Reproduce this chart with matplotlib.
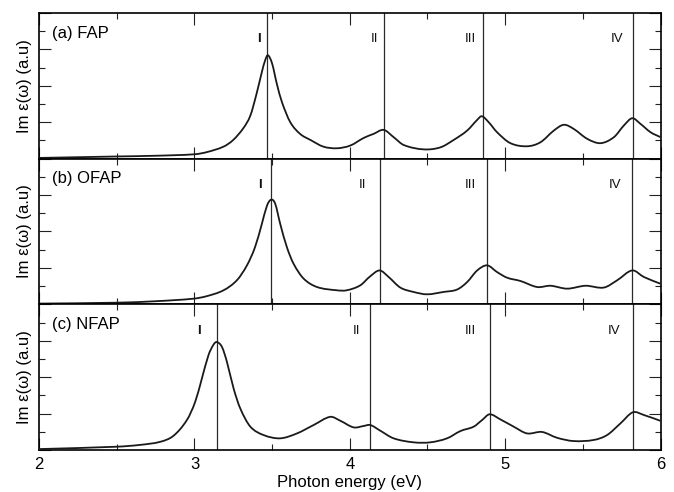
import matplotlib
matplotlib.use("Agg")
import matplotlib.pyplot as plt
from matplotlib.path import Path
from matplotlib.patches import PathPatch
from matplotlib.ticker import MultipleLocator

plt.rcParams["font.family"] = ["Liberation Sans", "DejaVu Sans"]

# Imaginary part of the dielectric function for the three compounds
fap_energy = [2.0, 2.5, 2.75, 3.0, 3.08, 3.187, 3.25, 3.316, 3.36, 3.40, 3.434, 3.455,
              3.473, 3.50, 3.53, 3.563, 3.617, 3.68, 3.746, 3.83, 3.917, 4.003, 4.09,
              4.153, 4.218, 4.282, 4.347, 4.475, 4.583, 4.669, 4.755, 4.82, 4.85, 4.894,
              4.948, 5.034, 5.141, 5.227, 5.313, 5.377, 5.44, 5.528, 5.614, 5.70, 5.764,
              5.818, 5.871, 5.936, 6.0]
fap_eps = [0.04, 0.12, 0.16, 0.24, 0.36, 0.66, 1.03, 1.69, 2.37, 3.57, 4.76, 5.4,
           5.68, 5.22, 4.12, 3.11, 2.0, 1.36, 1.03, 0.66, 0.57, 0.72, 1.14,
           1.36, 1.58, 1.18, 0.75, 0.51, 0.62, 1.03, 1.54, 2.13, 2.33, 2.0,
           1.45, 0.85, 0.68, 0.9, 1.54, 1.86, 1.64, 1.09, 0.85, 1.18, 1.82,
           2.22, 1.91, 1.45, 1.18]

ofap_energy = [2.0, 2.5, 2.75, 2.994, 3.08, 3.187, 3.273, 3.338, 3.39, 3.434, 3.467,
               3.494, 3.52, 3.552, 3.595, 3.638, 3.703, 3.789, 3.917, 3.98, 4.067,
               4.13, 4.192, 4.25, 4.325, 4.41, 4.497, 4.604, 4.69, 4.755, 4.82, 4.884,
               4.948, 5.013, 5.099, 5.206, 5.292, 5.399, 5.517, 5.635, 5.721, 5.818,
               5.893, 6.0]
ofap_eps = [0.04, 0.09, 0.17, 0.31, 0.45, 0.77, 1.32, 2.14, 3.14, 4.42, 5.42,
            5.75, 5.52, 4.42, 3.14, 2.23, 1.41, 0.95, 0.77, 0.77, 1.04,
            1.53, 1.86, 1.5, 0.92, 0.68, 0.55, 0.68, 0.81, 1.22, 1.86, 2.14,
            1.77, 1.46, 1.28, 0.95, 1.02, 0.86, 1.02, 0.92, 1.32, 1.86,
            1.5, 1.13]

nfap_energy = [2.0, 2.5, 2.65, 2.78, 2.865, 2.951, 3.005, 3.048, 3.09, 3.123, 3.144,
               3.177, 3.209, 3.252, 3.295, 3.36, 3.445, 3.552, 3.66, 3.767, 3.874,
               3.94, 4.025, 4.09, 4.132, 4.196, 4.282, 4.411, 4.518, 4.626, 4.712,
               4.797, 4.851, 4.9, 4.969, 5.055, 5.141, 5.237, 5.334, 5.441, 5.57,
               5.656, 5.742, 5.822, 5.893, 6.0]
nfap_eps = [0.05, 0.18, 0.28, 0.45, 0.78, 1.64, 2.65, 3.93, 5.2, 5.79, 5.93,
            5.66, 4.84, 3.38, 2.28, 1.28, 0.82, 0.64, 0.91, 1.37, 1.82,
            1.6, 1.24, 1.32, 1.37, 1.06, 0.64, 0.42, 0.42, 0.64, 1.04,
            1.28, 1.64, 1.96, 1.68, 1.28, 0.91, 0.99, 0.67, 0.49, 0.55,
            0.82, 1.46, 2.07, 1.92, 1.6]

# Peak assignments (eV)
fap_peaks = [3.47, 4.222, 4.855, 5.822]
ofap_peaks = [3.494, 4.192, 4.884, 5.818]
nfap_peaks = [3.144, 4.132, 4.90, 5.822]
peak_names = ["I", "II", "III", "IV"]

panel_titles = ["(a) FAP", "(b) OFAP", "(c) NFAP"]
x_ticks = [2, 3, 4, 5, 6]

# x positions of the roman-numeral labels
fap_label_x = [3.417, 4.158, 4.776, 5.723]
ofap_label_x = [3.419, 4.079, 4.776, 5.710]
nfap_label_x = [3.026, 4.046, 4.776, 5.704]


def smooth_path(x, y):
    """Cubic Hermite path through the given points (drawn as Bezier segments)."""
    n = len(x)
    slopes = []
    for i in range(n):
        if i == 0:
            slopes.append((y[1] - y[0]) / (x[1] - x[0]))
        elif i == n - 1:
            slopes.append((y[-1] - y[-2]) / (x[-1] - x[-2]))
        else:
            slopes.append((y[i + 1] - y[i - 1]) / (x[i + 1] - x[i - 1]))
    verts = [(x[0], y[0])]
    codes = [Path.MOVETO]
    for i in range(n - 1):
        h = x[i + 1] - x[i]
        verts += [(x[i] + h / 3, y[i] + slopes[i] * h / 3),
                  (x[i + 1] - h / 3, y[i + 1] - slopes[i + 1] * h / 3),
                  (x[i + 1], y[i + 1])]
        codes += [Path.CURVE4] * 3
    return Path(verts, codes)


fig = plt.figure(figsize=(6.74, 4.92), dpi=100)
left, right, bottom, top = 0.058, 0.980, 0.0854, 0.9736
h = (top - bottom) / 3

panels = [
    (fap_energy, fap_eps, fap_peaks, fap_label_x),
    (ofap_energy, ofap_eps, ofap_peaks, ofap_label_x),
    (nfap_energy, nfap_eps, nfap_peaks, nfap_label_x),
]

for k, (ex, ey, peaks, lab_x) in enumerate(panels):
    ax = fig.add_axes([left, top - (k + 1) * h, right - left, h])
    ax.set_xlim(2, 6)
    ax.set_ylim(0, 8)
    ax.add_patch(PathPatch(smooth_path(ex, ey), facecolor="none",
                           edgecolor="#1a1a1a", lw=1.3, zorder=3))
    for p, name, lx in zip(peaks, peak_names, lab_x):
        ax.axvline(p, color="#2a2a2a", lw=0.9, zorder=2)
        ax.text(lx, 6.55, name, ha="center", va="center", fontsize=9.5,
                fontweight="bold" if name == "I" else "normal", color="#111111")
    ax.text(0.021, 0.862, panel_titles[k], transform=ax.transAxes,
            ha="left", va="center", fontsize=12)
    ax.set_ylabel("Im ε(ω) (a.u)", fontsize=12)
    ax.yaxis.set_label_coords(-0.012, 0.5)

    ax.set_xticks(x_ticks)
    ax.xaxis.set_minor_locator(MultipleLocator(0.5))
    ax.yaxis.set_major_locator(MultipleLocator(2))
    ax.yaxis.set_minor_locator(MultipleLocator(1))
    ax.tick_params(which="both", direction="in", top=True, right=True,
                   width=0.8, color="#222222")
    ax.tick_params(which="major", length=8.5)
    ax.tick_params(which="minor", length=4.3)
    ax.tick_params(axis="y", which="both", labelleft=False)
    if k < 2:
        ax.tick_params(axis="x", which="both", labelbottom=False)
    else:
        ax.tick_params(axis="x", labelsize=12, pad=5)
        ax.set_xlabel("Photon energy (eV)", fontsize=12, labelpad=2)
    for s in ax.spines.values():
        s.set_linewidth(1.2)

fig.savefig("out.png", dpi=100)
